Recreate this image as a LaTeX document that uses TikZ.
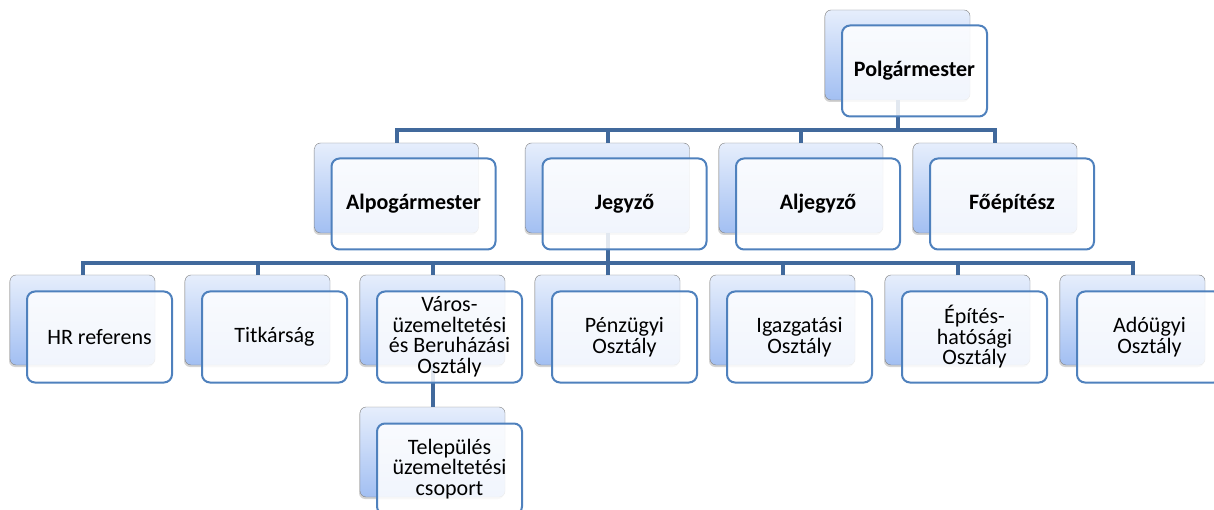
\documentclass[tikz,border=0pt]{standalone}
\usepackage{fontspec}
\setmainfont{Carlito}
\usetikzlibrary{shadows}

\definecolor{back-top}{HTML}{E6EEFC}
\definecolor{back-bottom}{HTML}{A2BFF2}
\definecolor{back-edge}{HTML}{808080}
\definecolor{front-edge}{HTML}{4F81BD}
\definecolor{link-line}{HTML}{41699C}

\tikzstyle{back-box}=[rectangle, rounded corners=6pt, draw={back-edge}, top color={back-top}, bottom color={back-bottom}, minimum height=90pt, drop shadow={shadow xshift=-1pt, shadow yshift=-2pt, opacity=0.35}]
\tikzstyle{front-box}=[rectangle, rounded corners=8pt, draw={front-edge}, line width=2pt, fill=white, fill opacity=0.85, text opacity=1, minimum height=91pt, align=center, font=\fontsize{22}{20.5}\selectfont]
\tikzstyle{link}=[draw={link-line}, line width=4pt]

\begin{document}
\begin{tikzpicture}[x=1pt, y=-1pt]
      \useasboundingbox (0,0) rectangle (1214,510);
      \clip (0,0) rectangle (1214,510);

      % back boxes
      \node (back-polg) at (897.5, 55) [back-box, minimum width=145pt] {};

      \node (back-alpo) at (396.5, 188) [back-box, minimum width=164pt] {};
      \node (back-jegy) at (607.5, 188) [back-box, minimum width=164pt] {};
      \node (back-alje) at (801,   188) [back-box, minimum width=164pt] {};
      \node (back-foep) at (995,   188) [back-box, minimum width=164pt] {};

      \node (back-hr)   at (82.5,   320) [back-box, minimum width=145pt] {};
      \node (back-titk) at (257.5,  320) [back-box, minimum width=145pt] {};
      \node (back-varo) at (432.5,  320) [back-box, minimum width=145pt] {};
      \node (back-penz) at (607.5,  320) [back-box, minimum width=145pt] {};
      \node (back-igaz) at (782.5,  320) [back-box, minimum width=145pt] {};
      \node (back-epit) at (957.5,  320) [back-box, minimum width=145pt] {};
      \node (back-ado)  at (1132.5, 320) [back-box, minimum width=145pt] {};

      \node (back-telep) at (432.5, 452) [back-box, minimum width=145pt] {};

      % connectors
      \draw[link] (back-polg.south) -- ++(0,30) -| (back-alpo.north);
      \draw[link] (back-polg.south) -- ++(0,30) -| (back-jegy.north);
      \draw[link] (back-polg.south) -- ++(0,30) -| (back-alje.north);
      \draw[link] (back-polg.south) -- ++(0,30) -| (back-foep.north);

      \draw[link] (back-jegy.south) -- ++(0,30) -| (back-hr.north);
      \draw[link] (back-jegy.south) -- ++(0,30) -| (back-titk.north);
      \draw[link] (back-jegy.south) -- ++(0,30) -| (back-varo.north);
      \draw[link] (back-jegy.south) -- ++(0,30) -| (back-penz.north);
      \draw[link] (back-jegy.south) -- ++(0,30) -| (back-igaz.north);
      \draw[link] (back-jegy.south) -- ++(0,30) -| (back-epit.north);
      \draw[link] (back-jegy.south) -- ++(0,30) -| (back-ado.north);

      \draw[link] (back-varo.south) -- (back-telep.north);

      % front boxes
      \node (box-polg) at (914.5, 71) [front-box, minimum width=145pt] {\bfseries Polgármester};

      \node (box-alpo) at (413.5, 204) [front-box, minimum width=164pt] {\bfseries Alpogármester};
      \node (box-jegy) at (624.5, 204) [front-box, minimum width=164pt] {\bfseries Jegyző};
      \node (box-alje) at (818,   204) [front-box, minimum width=164pt] {\bfseries Aljegyző};
      \node (box-foep) at (1012,  204) [front-box, minimum width=164pt] {\bfseries Főépítész};

      \node (box-hr)   at (99.5,   337) [front-box, minimum width=145pt] {HR referens};
      \node (box-titk) at (274.5,  337) [front-box, minimum width=145pt] {Titkárság};
      \node (box-varo) at (449.5,  337) [front-box, minimum width=145pt] {Város-\\üzemeltetési\\és Beruházási\\Osztály};
      \node (box-penz) at (624.5,  337) [front-box, minimum width=145pt] {Pénzügyi\\Osztály};
      \node (box-igaz) at (799.5,  337) [front-box, minimum width=145pt] {Igazgatási\\Osztály};
      \node (box-epit) at (974.5,  337) [front-box, minimum width=145pt] {Építés-\\hatósági\\Osztály};
      \node (box-ado)  at (1149.5, 337) [front-box, minimum width=145pt] {Adóügyi\\Osztály};

      \node (box-telep) at (449.5, 469) [front-box, minimum width=145pt] {Település\\üzemeltetési\\csoport};
    \end{tikzpicture}
\end{document}
